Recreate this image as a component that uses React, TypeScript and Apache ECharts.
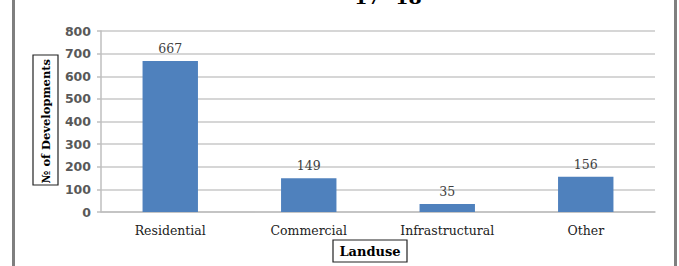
import React, { useEffect, useRef } from "react";
import * as echarts from "echarts";

const categories = ["Residential", "Commercial", "Infrastructural", "Other"];
const values = [667, 149, 35, 156];
const yTicks = [0, 100, 200, 300, 400, 500, 600, 700, 800];
const titleText = "17- 18";
const yAxisName = "№ of Developments";
const xAxisName = "Landuse";

export default function App() {
  const ref = useRef<HTMLDivElement>(null);
  useEffect(() => {
    if (!ref.current) return;
    const chart = echarts.init(ref.current, null, { renderer: "svg" });
    chart.setOption({
      animation: false,
      backgroundColor: "#ffffff",
      grid: { left: 101, right: 24, top: 31, bottom: 54, containLabel: false },
      xAxis: {
        type: "category",
        data: categories,
        axisLine: { show: true, lineStyle: { color: "#BFBFBF", width: 1.5 } },
        axisTick: { show: false },
        axisLabel: {
          color: "#222222",
          fontFamily: "DejaVu Serif",
          fontSize: 12.5,
          margin: 12,
        },
      },
      yAxis: {
        type: "value",
        min: yTicks[0],
        max: yTicks[yTicks.length - 1],
        interval: 100,
        axisLine: { show: true, lineStyle: { color: "#BFBFBF", width: 1.5 } },
        axisTick: { show: true, length: 4, lineStyle: { color: "#BFBFBF", width: 1.5 } },
        splitLine: { show: true, lineStyle: { color: "#C8C8C8", width: 1.5 } },
        axisLabel: {
          color: "#595959",
          fontFamily: "DejaVu Sans",
          fontWeight: "bold",
          fontSize: 12.5,
          margin: 10,
        },
      },
      series: [
        {
          type: "bar",
          data: values,
          barWidth: "40%",
          itemStyle: { color: "#4F81BD" },
          label: {
            show: true,
            position: "top",
            distance: 6,
            color: "#404040",
            fontFamily: "DejaVu Serif",
            fontSize: 12.5,
          },
        },
      ],
      graphic: [
        { type: "rect", shape: { x: 12, y: -5, width: 3, height: 280 }, style: { fill: "#7F7F7F" } },
        { type: "rect", shape: { x: 674, y: -5, width: 3, height: 280 }, style: { fill: "#7F7F7F" } },
        {
          type: "text",
          x: 388,
          y: -3,
          style: {
            text: titleText,
            fill: "#000",
            font: "bold 19px 'DejaVu Serif'",
            align: "center",
            verticalAlign: "middle",
          },
        },
        {
          type: "rect",
          shape: { x: 33, y: 55, width: 25, height: 130 },
          style: { fill: "#fff", stroke: "#222", lineWidth: 1.2 },
        },
        {
          type: "text",
          x: 46,
          y: 121,
          rotation: Math.PI / 2,
          style: {
            text: yAxisName,
            fill: "#000",
            font: "bold 11.5px 'DejaVu Serif'",
            align: "center",
            verticalAlign: "middle",
          },
        },
        {
          type: "rect",
          shape: { x: 333, y: 240, width: 74, height: 22 },
          style: { fill: "#fff", stroke: "#222", lineWidth: 1.2 },
        },
        {
          type: "text",
          x: 370,
          y: 251,
          style: {
            text: xAxisName,
            fill: "#000",
            font: "bold 13px 'DejaVu Serif'",
            align: "center",
            verticalAlign: "middle",
          },
        },
      ],
    });
    return () => chart.dispose();
  }, []);
  return (
    <div
      ref={ref}
      style={{ position: "fixed", left: 0, top: 0, width: 679, height: 266 }}
    />
  );
}
